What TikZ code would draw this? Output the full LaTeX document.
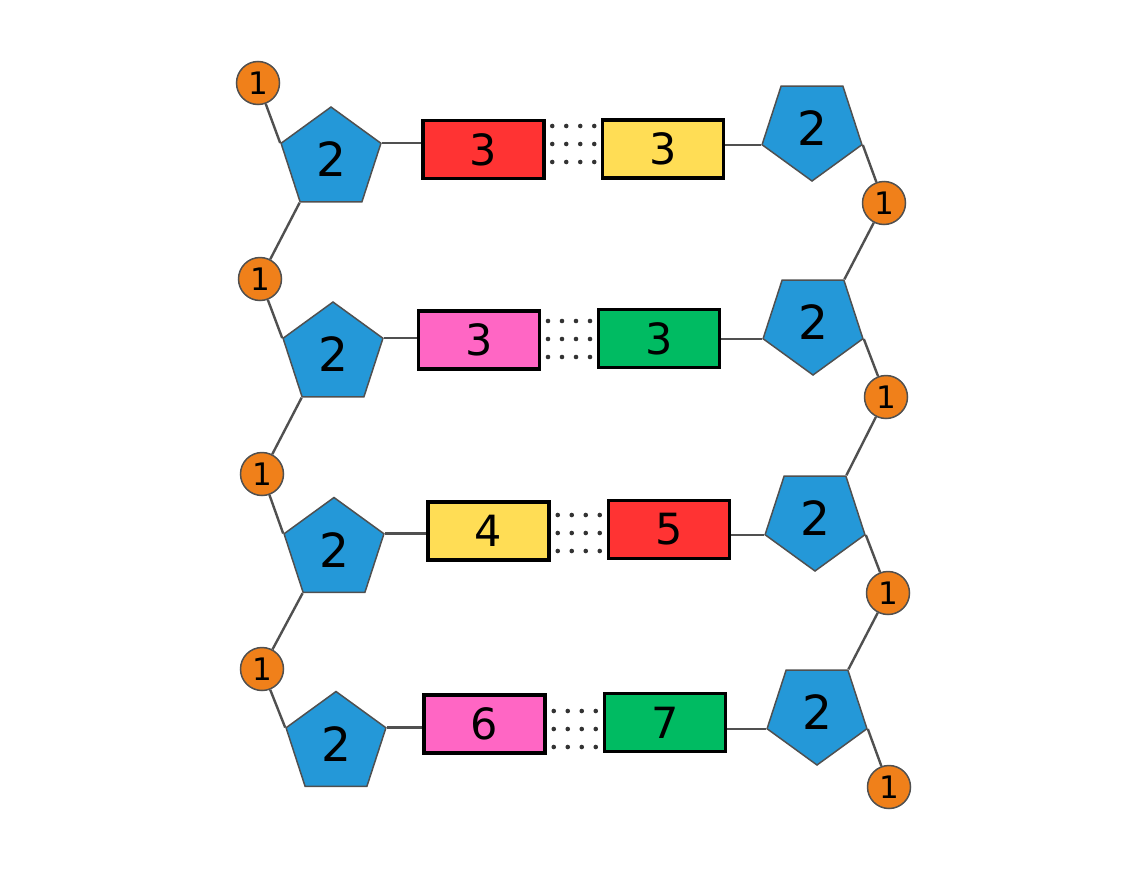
\documentclass[tikz,border=0pt]{standalone}
\usepackage{fontspec}
\setmainfont{DejaVu Sans}
\usetikzlibrary{shapes.geometric,backgrounds,calc}
\definecolor{pblue}{RGB}{36,152,216}
\definecolor{porange}{RGB}{240,128,26}
\definecolor{pred}{RGB}{255,51,51}
\definecolor{pyellow}{RGB}{255,221,85}
\definecolor{ppink}{RGB}{255,102,196}
\definecolor{pgreen}{RGB}{0,187,98}
\definecolor{edgegray}{RGB}{80,80,80}
\begin{document}
\begin{tikzpicture}[x=1pt,y=-1pt,
 sugar/.style={regular polygon, regular polygon sides=5, minimum size=105pt, inner sep=0pt,
   fill=pblue, draw=edgegray, line width=1.5pt, font=\fontsize{47}{47}\selectfont},
 sugarR/.style={sugar, regular polygon rotate=180},
 phos/.style={circle, minimum size=43pt, inner sep=0pt, fill=porange, draw=edgegray,
   line width=1.5pt, font=\fontsize{31}{31}\selectfont},
 base/.style={rectangle, minimum width=121pt, minimum height=58pt, inner sep=0pt,
   draw=black, line width=3.8pt, font=\fontsize{43}{43}\selectfont},
 bond/.style={draw=edgegray, line width=2.4pt},
 hdot/.style={fill=black!80}]
\useasboundingbox (0,0) rectangle (1137,878);

% left strand
\node[phos] (pl1) at (258,83) {1};
\node[phos] (pl2) at (260,279) {1};
\node[phos] (pl3) at (262,474) {1};
\node[phos] (pl4) at (262,669) {1};
\node[sugar] (sl1) at (331,159.5) {2};
\node[sugar] (sl2) at (333,354.5) {2};
\node[sugar] (sl3) at (334,550) {2};
\node[sugar] (sl4) at (336,744) {2};

% right strand
\node[sugarR] (sr1) at (812,128.5) {2};
\node[sugarR] (sr2) at (813,322.5) {2};
\node[sugarR] (sr3) at (815,518.5) {2};
\node[sugarR] (sr4) at (817,712.5) {2};
\node[phos] (pr1) at (884,203) {1};
\node[phos] (pr2) at (886,397) {1};
\node[phos] (pr3) at (888,593) {1};
\node[phos] (pr4) at (889,787) {1};

% bases
\node[base, fill=pred]    (bl1) at (483.5,149.5) {3};
\node[base, fill=pyellow] (br1) at (663,149) {3};
\node[base, fill=ppink]   (bl2) at (479,340) {3};
\node[base, fill=pgreen]  (br2) at (659,338.5) {3};
\node[base, fill=pyellow] (bl3) at (488.5,531) {4};
\node[base, fill=pred]    (br3) at (669,529.5) {5};
\node[base, fill=ppink]   (bl4) at (484.5,724) {6};
\node[base, fill=pgreen]  (br4) at (665,722.5) {7};

\begin{scope}[on background layer]
  % left backbone
  \draw[bond] (pl1) -- (sl1.corner 2);
  \draw[bond] (sl1.corner 3) -- (pl2);
  \draw[bond] (pl2) -- (sl2.corner 2);
  \draw[bond] (sl2.corner 3) -- (pl3);
  \draw[bond] (pl3) -- (sl3.corner 2);
  \draw[bond] (sl3.corner 3) -- (pl4);
  \draw[bond] (pl4) -- (sl4.corner 2);
  % right backbone
  \draw[bond] (sr1.corner 2) -- (pr1);
  \draw[bond] (pr1) -- (sr2.corner 3);
  \draw[bond] (sr2.corner 2) -- (pr2);
  \draw[bond] (pr2) -- (sr3.corner 3);
  \draw[bond] (sr3.corner 2) -- (pr3);
  \draw[bond] (pr3) -- (sr4.corner 3);
  \draw[bond] (sr4.corner 2) -- (pr4);
  % sugar to base
  \foreach \i in {1,2,3,4}{
    \draw[bond] (sl\i.corner 5) -- (sl\i.corner 5 -| bl\i.west);
    \draw[bond] (sr\i.corner 5) -- (sr\i.corner 5 -| br\i.east);
  }
\end{scope}

% hydrogen bonds (dotted)
\foreach \i/\y in {1/144,2/339,3/533,4/729}{
  \coordinate (hm\i) at ($(bl\i.east |- 0,\y)!0.5!(br\i.west |- 0,\y)$);
  \foreach \k in {-1.5,-0.5,0.5,1.5}{
    \foreach \j in {-1,0,1}{
      \fill[hdot] ([shift={(14*\k,18*\j)}]hm\i) circle (2.3);
    }
  }
}
\end{tikzpicture}
\end{document}
